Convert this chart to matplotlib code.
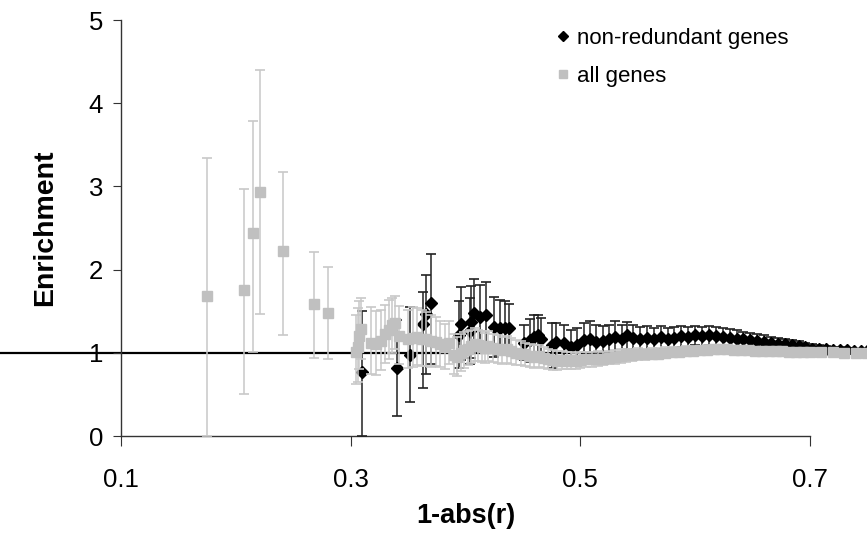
import matplotlib
matplotlib.use('Agg')
import matplotlib.pyplot as plt
from matplotlib.lines import Line2D
import numpy as np

plt.rcParams['font.family'] = ['Liberation Sans', 'DejaVu Sans']

# non-redundant genes: x, enrichment, upper and lower end of error bar
nr_x = [0.310, 0.340, 0.352, 0.363, 0.366, 0.370, 0.394, 0.396, 0.404, 0.405,
        0.407, 0.413, 0.418, 0.425, 0.430, 0.434, 0.438, 0.451, 0.456, 0.460,
        0.463, 0.466, 0.475, 0.479, 0.486, 0.492, 0.497, 0.503, 0.508, 0.514,
        0.520, 0.525, 0.530, 0.536, 0.541, 0.546, 0.552, 0.558, 0.564, 0.570,
        0.576, 0.582, 0.588, 0.594, 0.600, 0.606, 0.612, 0.618, 0.624, 0.630,
        0.636, 0.642, 0.648, 0.654, 0.660, 0.666, 0.672, 0.678, 0.684, 0.690,
        0.696, 0.702, 0.708, 0.714, 0.720, 0.726, 0.732, 0.738, 0.744, 0.750]
nr_y = [0.77, 0.82, 0.97, 1.35, 1.47, 1.60, 1.21, 1.35, 1.26, 1.37,
        1.48, 1.43, 1.45, 1.31, 1.30, 1.30, 1.30, 1.12, 1.15, 1.19,
        1.21, 1.17, 1.09, 1.13, 1.12, 1.07, 1.09, 1.15, 1.17, 1.13,
        1.14, 1.16, 1.19, 1.17, 1.21, 1.18, 1.16, 1.18, 1.17, 1.19,
        1.17, 1.18, 1.20, 1.19, 1.21, 1.20, 1.21, 1.20, 1.19, 1.18,
        1.17, 1.16, 1.15, 1.14, 1.13, 1.12, 1.11, 1.10, 1.09, 1.08,
        1.07, 1.05, 1.04, 1.04, 1.03, 1.03, 1.03, 1.02, 1.02, 1.02]
nr_hi = [1.50, 1.40, 1.55, 1.73, 1.94, 2.19, 1.62, 1.79, 1.66, 1.80,
         1.89, 1.81, 1.85, 1.67, 1.63, 1.62, 1.59, 1.33, 1.41, 1.45,
         1.45, 1.42, 1.36, 1.36, 1.33, 1.27, 1.30, 1.36, 1.38, 1.33,
         1.32, 1.34, 1.38, 1.34, 1.37, 1.34, 1.31, 1.32, 1.30, 1.32,
         1.30, 1.31, 1.32, 1.31, 1.32, 1.31, 1.32, 1.31, 1.30, 1.29,
         1.27, 1.25, 1.24, 1.22, 1.21, 1.19, 1.18, 1.17, 1.15, 1.14,
         1.12, 1.10, 1.09, 1.08, 1.07, 1.07, 1.06, 1.05, 1.05, 1.04]
nr_lo = [0.00, 0.24, 0.41, 0.58, 0.75, 0.87, 0.82, 0.91, 0.86, 0.94,
         1.07, 1.05, 1.05, 0.95, 0.97, 0.98, 1.01, 0.91, 0.89, 0.93,
         0.97, 0.92, 0.82, 0.90, 0.91, 0.87, 0.88, 0.94, 0.96, 0.93,
         0.95, 0.98, 1.00, 1.00, 1.04, 1.02, 1.01, 1.03, 1.03, 1.05,
         1.04, 1.05, 1.07, 1.06, 1.09, 1.08, 1.09, 1.08, 1.08, 1.07,
         1.07, 1.07, 1.06, 1.06, 1.05, 1.05, 1.04, 1.03, 1.03, 1.02,
         1.01, 1.00, 0.99, 1.00, 0.99, 0.99, 1.00, 0.99, 0.99, 1.00]

# all genes
all_x = [0.175, 0.207, 0.215, 0.221, 0.241, 0.268, 0.280, 0.305, 0.306, 0.307,
         0.309, 0.318, 0.322, 0.326, 0.330, 0.333, 0.336, 0.339, 0.342, 0.350,
         0.354, 0.358, 0.362, 0.366, 0.370, 0.374, 0.378, 0.382, 0.386, 0.390,
         0.393, 0.396, 0.399, 0.402, 0.405, 0.408, 0.411, 0.414, 0.417, 0.420,
         0.424, 0.428, 0.432, 0.436, 0.440, 0.444, 0.448, 0.452, 0.456, 0.460,
         0.464, 0.468, 0.472, 0.476, 0.480, 0.484, 0.488, 0.492, 0.496, 0.500,
         0.505, 0.510, 0.515, 0.520, 0.525, 0.530, 0.535, 0.540, 0.545, 0.550,
         0.556, 0.562, 0.568, 0.574, 0.580, 0.586, 0.592, 0.598, 0.604, 0.610,
         0.616, 0.622, 0.628, 0.634, 0.640, 0.646, 0.652, 0.658, 0.664, 0.670,
         0.676, 0.682, 0.688, 0.694, 0.700, 0.710, 0.720, 0.730, 0.740, 0.750]
all_y = [1.68, 1.75, 2.44, 2.93, 2.22, 1.59, 1.48, 1.01, 1.07, 1.20,
         1.29, 1.12, 1.10, 1.14, 1.22, 1.28, 1.33, 1.36, 1.20, 1.16,
         1.18, 1.19, 1.17, 1.16, 1.14, 1.13, 1.10, 1.07, 1.12, 0.97,
         0.95, 1.00, 1.03, 1.05, 1.08, 1.10, 1.09, 1.07, 1.06, 1.08,
         1.06, 1.04, 1.03, 1.04, 1.02, 1.00, 0.99, 0.98, 0.96, 0.95,
         0.96, 0.94, 0.92, 0.91, 0.90, 0.91, 0.90, 0.91, 0.90, 0.91,
         0.92, 0.92, 0.93, 0.93, 0.94, 0.95, 0.96, 0.97, 0.97, 0.98,
         0.98, 0.99, 0.99, 1.00, 1.01, 1.01, 1.02, 1.02, 1.03, 1.03,
         1.04, 1.04, 1.04, 1.03, 1.03, 1.03, 1.02, 1.02, 1.02, 1.02,
         1.02, 1.01, 1.01, 1.01, 1.01, 1.01, 1.01, 1.00, 1.00, 1.00]
all_hi = [3.34, 2.97, 3.79, 4.40, 3.17, 2.21, 2.03, 1.45, 1.54, 1.62,
          1.66, 1.55, 1.50, 1.52, 1.57, 1.63, 1.66, 1.68, 1.56, 1.52,
          1.55, 1.54, 1.51, 1.49, 1.46, 1.43, 1.38, 1.35, 1.38, 1.22,
          1.19, 1.23, 1.25, 1.26, 1.28, 1.30, 1.28, 1.26, 1.24, 1.26,
          1.23, 1.21, 1.19, 1.20, 1.18, 1.15, 1.14, 1.12, 1.10, 1.09,
          1.09, 1.07, 1.05, 1.03, 1.02, 1.02, 1.01, 1.01, 1.00, 1.01,
          1.01, 1.01, 1.02, 1.01, 1.02, 1.03, 1.04, 1.05, 1.05, 1.06,
          1.05, 1.06, 1.06, 1.07, 1.07, 1.07, 1.08, 1.08, 1.08, 1.09,
          1.09, 1.09, 1.09, 1.08, 1.08, 1.07, 1.07, 1.06, 1.06, 1.06,
          1.05, 1.05, 1.05, 1.04, 1.04, 1.03, 1.03, 1.02, 1.02, 1.01]
all_lo = [0.00, 0.50, 1.01, 1.47, 1.21, 0.94, 0.93, 0.62, 0.65, 0.80,
          0.92, 0.74, 0.73, 0.79, 0.88, 0.93, 1.00, 1.05, 0.86, 0.82,
          0.83, 0.85, 0.84, 0.84, 0.83, 0.84, 0.83, 0.81, 0.86, 0.74,
          0.72, 0.78, 0.82, 0.85, 0.88, 0.90, 0.90, 0.89, 0.88, 0.90,
          0.89, 0.88, 0.87, 0.88, 0.87, 0.85, 0.85, 0.84, 0.83, 0.82,
          0.83, 0.82, 0.80, 0.79, 0.79, 0.80, 0.80, 0.81, 0.80, 0.82,
          0.83, 0.83, 0.84, 0.85, 0.86, 0.87, 0.88, 0.89, 0.90, 0.91,
          0.91, 0.92, 0.93, 0.94, 0.95, 0.95, 0.96, 0.97, 0.97, 0.98,
          0.99, 0.99, 0.99, 0.99, 0.99, 0.99, 0.98, 0.98, 0.98, 0.98,
          0.98, 0.98, 0.98, 0.98, 0.98, 0.99, 0.99, 0.99, 0.99, 0.99]

x_ticks = [0.1, 0.3, 0.5, 0.7]
y_ticks = [0, 1, 2, 3, 4, 5]


def draw_series(ax, x, y, hi, lo, marker, size, color, ecolor, cap, label, z):
    y = np.array(y)
    yerr = [y - np.array(lo), np.array(hi) - y]
    c = ax.errorbar(x, y, yerr=yerr, fmt=marker, ms=size, color=color, mec=color,
                    ecolor=ecolor, elinewidth=1.1, capsize=cap, capthick=1.2,
                    label=label, zorder=z)
    # excel lets the points run past the end of the axis
    arts = [c.lines[0]] + list(c.lines[1]) + list(c.lines[2])
    for art in arts:
        art.set_clip_on(False)
    return c


fig = plt.figure(figsize=(8.67, 5.40), dpi=100)
ax = fig.add_axes([121 / 867, 1 - 436 / 540, (810 - 121) / 867, (436 - 20) / 540])

# reference line at 1 goes across the whole picture
ax.axhline(1, xmin=-0.3, xmax=1.3, color='black', lw=1.6, clip_on=False, zorder=1)

draw_series(ax, nr_x, nr_y, nr_hi, nr_lo, 'D', 6.5, 'black', '#222222', 3.8,
            'non-redundant genes', 3)
draw_series(ax, all_x, all_y, all_hi, all_lo, 's', 6.5, '#c0c0c0', '#c8c8c8', 3.5,
            'all genes', 4)

ax.set_xlim(0.1, 0.7)
ax.set_ylim(0, 5)
ax.set_xticks(x_ticks)
ax.set_xticklabels(['0.1', '0.3', '0.5', '0.7'])
ax.set_yticks(y_ticks)
ax.tick_params(axis='both', labelsize=18.5, direction='out', color='#333333')
ax.tick_params(axis='x', length=7, pad=16)
ax.tick_params(axis='y', length=6, pad=7)
for s in ['top', 'right']:
    ax.spines[s].set_visible(False)
for s in ['left', 'bottom']:
    ax.spines[s].set_color('#333333')
    ax.spines[s].set_linewidth(1.0)

ax.set_xlabel('1-abs(r)', fontsize=19.5, fontweight='bold', labelpad=8)
ax.set_ylabel('Enrichment', fontsize=20.5, fontweight='bold', labelpad=22)

h, l = ax.get_legend_handles_labels()
hd = [Line2D([], [], ls='none', marker='D', ms=5, color='black'),
      Line2D([], [], ls='none', marker='s', ms=6, color='#c0c0c0')]
ax.legend(hd, l, loc='upper left', bbox_to_anchor=(536 / 867, 1 - 8 / 540),
          bbox_transform=fig.transFigure, frameon=False, fontsize=16,
          handlelength=0.6, handletextpad=0.35, labelspacing=0.75)

fig.savefig('out.png', dpi=100)
